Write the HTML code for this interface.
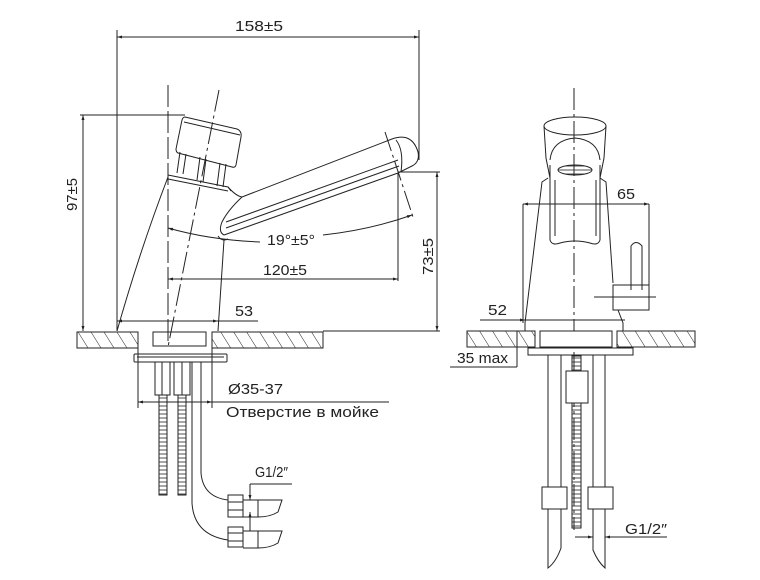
<!DOCTYPE html>
<html><head><meta charset="utf-8"><style>
html,body{margin:0;padding:0;background:#fff}
svg{display:block}
text{font-family:"Liberation Sans","DejaVu Sans",sans-serif;font-size:15px;fill:#222}
</style></head><body>
<svg width="760" height="580" viewBox="0 0 760 580" xmlns="http://www.w3.org/2000/svg">
<defs>
<pattern id="h" patternUnits="userSpaceOnUse" width="11" height="11" patternTransform="rotate(-32)">
<line x1="0" y1="0" x2="0" y2="11" stroke="#222" stroke-width="1"/></pattern>
<pattern id="th" patternUnits="userSpaceOnUse" width="4" height="4">
<line x1="0" y1="2" x2="10" y2="2" stroke="#222" stroke-width="0.8"/></pattern>
<marker id="a" viewBox="0 0 10 10" refX="10" refY="5" markerWidth="8" markerHeight="5" orient="auto-start-reverse"><path d="M0,2 L10,5 L0,8z" fill="#222"/></marker>
</defs>
<g stroke="#222" stroke-width="1" fill="none">
<!-- ===== LEFT VIEW ===== -->
<line x1="117" y1="30" x2="117" y2="331"/>
<line x1="419" y1="30" x2="419" y2="160"/>
<line x1="117" y1="37" x2="419" y2="37" marker-start="url(#a)" marker-end="url(#a)"/>
<line x1="80" y1="115" x2="185" y2="115"/>
<line x1="83" y1="115" x2="83" y2="331" marker-start="url(#a)" marker-end="url(#a)"/>
<rect x="77" y="332" width="61" height="16" fill="url(#h)"/>
<rect x="212" y="332" width="111" height="16" fill="url(#h)"/>
<rect x="153" y="332" width="53" height="14" fill="#fff"/>
<rect x="134" y="354" width="93" height="8" rx="1"/>
<line x1="137" y1="357" x2="224" y2="357"/>
<line x1="168" y1="85" x2="168" y2="345" stroke-dasharray="22,4"/>
<line x1="219" y1="90" x2="168" y2="347" stroke-dasharray="22,4,3,4"/>
<path d="M185,117 L237,129 Q242,131 241,137 L236,165 Q235,168 232,167 L178,153 Q176,152 176,149 L182,120 Q183,117 185,117z"/>
<line x1="184" y1="122" x2="240" y2="135"/>
<path d="M180,152 L177,173 M186,154 L183,174 M200,157 L197,180 M206,159 L203,182 M220,163 L217,186 M226,164 L223,187"/>
<path d="M168,175 L228,187 L231,191"/>
<line x1="168" y1="179" x2="228" y2="191"/>
<path d="M228,187 Q236,196 242,197"/>
<path d="M242,197 L392,139 Q412,132 418,152 Q420,162 412,166 L398,173 L224,235"/>
<path d="M396,140 Q404,150 401,172"/>
<line x1="226" y1="222" x2="398" y2="160"/>
<line x1="226" y1="228" x2="399" y2="166"/>
<path d="M242,197 Q228,210 222,222 Q218,232 224,235"/>
<path d="M168,177 Q140,250 117,331"/>
<path d="M224,240 L218,331"/>
<path d="M218,236 Q222,242 228,239"/>
<path d="M168,228 Q210,240 260,242" marker-start="url(#a)"/>
<path d="M323,235 Q370,230 412,215" marker-end="url(#a)"/>
<line x1="385" y1="132" x2="413" y2="217" stroke-dasharray="20,4,3,4"/>
<line x1="398" y1="173" x2="398" y2="281"/>
<line x1="168" y1="279" x2="398" y2="279" marker-start="url(#a)" marker-end="url(#a)"/>
<line x1="398" y1="172" x2="440" y2="172"/>
<line x1="323" y1="331" x2="440" y2="331"/>
<line x1="437" y1="172" x2="437" y2="331" marker-start="url(#a)" marker-end="url(#a)"/>
<line x1="117" y1="321" x2="218" y2="321" marker-start="url(#a)" marker-end="url(#a)"/>
<line x1="218" y1="321" x2="258" y2="321"/>
<line x1="138" y1="348" x2="138" y2="408"/>
<line x1="212" y1="348" x2="212" y2="408"/>
<line x1="138" y1="402" x2="212" y2="402" marker-start="url(#a)" marker-end="url(#a)"/>
<line x1="212" y1="402" x2="389" y2="402"/>
<rect x="155" y="362" width="15" height="33"/>
<rect x="174" y="362" width="16" height="33"/>
<line x1="162" y1="362" x2="162" y2="395"/><line x1="182" y1="362" x2="182" y2="395"/>
<rect x="159" y="395" width="8" height="100" fill="url(#th)"/>
<rect x="178" y="395" width="8" height="100" fill="url(#th)"/>
<path d="M192,362 L192,503 Q194,535 228,540"/>
<path d="M201,362 L201,473 Q203,497 228,500"/>
<rect x="228" y="495" width="15" height="22"/>
<line x1="228" y1="502" x2="243" y2="502"/><line x1="228" y1="510" x2="243" y2="510"/>
<path d="M243,500 L282,500 L278,512 Q270,517 258,517 L243,517"/>
<line x1="258" y1="500" x2="258" y2="517"/>
<rect x="228" y="527" width="15" height="20"/>
<line x1="228" y1="533" x2="243" y2="533"/><line x1="228" y1="541" x2="243" y2="541"/>
<path d="M243,531 L282,531 L278,543 Q270,548 258,548 L243,548"/>
<line x1="258" y1="531" x2="258" y2="548"/>
<line x1="250" y1="484" x2="292" y2="484"/>
<line x1="250" y1="484" x2="250" y2="500" marker-end="url(#a)"/>
<line x1="250" y1="512" x2="250" y2="531" marker-start="url(#a)"/>

<!-- ===== RIGHT VIEW ===== -->
<line x1="574" y1="88" x2="574" y2="530" stroke-dasharray="22,4,3,4"/>
<ellipse cx="575" cy="126" rx="31" ry="9"/>
<path d="M544,126 L546,158 Q548,168 550,178 M606,126 L604,158 Q602,168 600,178"/>
<path d="M550,160 Q552,140 575,138 Q598,140 600,160"/>
<ellipse cx="575" cy="170" rx="17" ry="5" fill="url(#th)"/>
<path d="M550,165 L550,240 Q552,246 560,243 Q575,239 590,243 Q598,246 600,240 L600,165"/>
<path d="M555,180 L555,236 M596,180 L596,236"/>
<path d="M548,178 L542,182 L525,323 L525,331"/>
<path d="M600,178 L606,182 L613,283"/>
<path d="M618,310 L623,323 L623,331"/>
<rect x="613" y="285" width="36" height="25"/>
<path d="M631,290 L631,246 Q636,239 642,246 L642,290"/>
<line x1="594" y1="297" x2="656" y2="297"/>
<line x1="523" y1="204" x2="523" y2="323"/>
<line x1="649" y1="204" x2="649" y2="310"/>
<line x1="523" y1="204" x2="649" y2="204" marker-start="url(#a)" marker-end="url(#a)"/>
<line x1="480" y1="320" x2="625" y2="320"/>
<line x1="508" y1="320" x2="525" y2="320" marker-end="url(#a)"/>
<rect x="467" y="331" width="68" height="16" fill="url(#h)"/>
<rect x="617" y="331" width="78" height="16" fill="url(#h)"/>
<rect x="540" y="331" width="72" height="16" fill="#fff"/>
<rect x="528" y="348" width="105" height="7"/>
<line x1="517" y1="331" x2="517" y2="367"/>
<line x1="450" y1="367" x2="517" y2="367"/>
<path d="M548,355 L548,568 Q556,562 561,548 L561,355"/>
<path d="M593,355 L593,550 Q598,562 605,568 L605,355"/>
<rect x="572" y="356" width="9" height="172" fill="url(#th)"/>
<rect x="566" y="371" width="22" height="32" fill="#fff"/>
<rect x="542" y="487" width="25" height="22" fill="#fff"/>
<rect x="588" y="487" width="25" height="22" fill="#fff"/>
<line x1="575" y1="537" x2="593" y2="537" marker-end="url(#a)"/>
<line x1="605" y1="537" x2="667" y2="537"/>
<line x1="620" y1="537" x2="605" y2="537" marker-end="url(#a)"/>
</g>
<text x="235" y="31" textLength="48" lengthAdjust="spacingAndGlyphs">158±5</text>
<text transform="translate(77,211) rotate(-90)" textLength="33" lengthAdjust="spacingAndGlyphs">97±5</text>
<text x="267" y="245" textLength="48" lengthAdjust="spacingAndGlyphs">19°±5°</text>
<text x="263" y="275" textLength="44" lengthAdjust="spacingAndGlyphs">120±5</text>
<text transform="translate(433,275) rotate(-90)" textLength="37" lengthAdjust="spacingAndGlyphs">73±5</text>
<text x="235" y="316" textLength="18" lengthAdjust="spacingAndGlyphs">53</text>
<text x="228" y="394" textLength="55" lengthAdjust="spacingAndGlyphs">Ø35-37</text>
<text x="226" y="417" textLength="153" lengthAdjust="spacingAndGlyphs">Отверстие в мойке</text>
<text x="255" y="477" textLength="33" lengthAdjust="spacingAndGlyphs">G1/2″</text>
<text x="617" y="199" textLength="18" lengthAdjust="spacingAndGlyphs">65</text>
<text x="488" y="315" textLength="19" lengthAdjust="spacingAndGlyphs">52</text>
<text x="457" y="363" textLength="51" lengthAdjust="spacingAndGlyphs">35 max</text>
<text x="625" y="534" textLength="42" lengthAdjust="spacingAndGlyphs">G1/2″</text>
</svg>
</body></html>
